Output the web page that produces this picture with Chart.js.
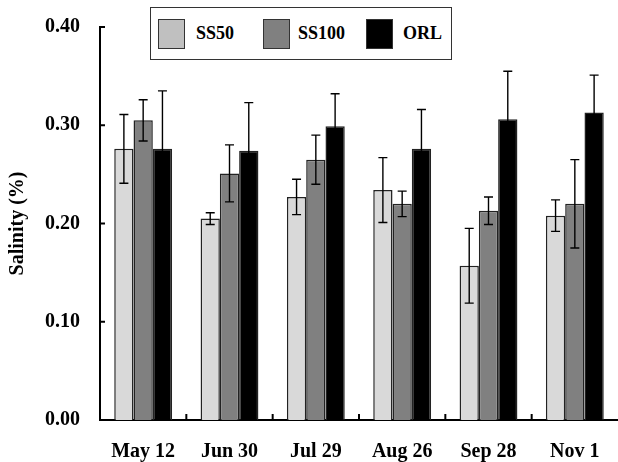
<!DOCTYPE html>
<html lang="en">
<head>
    <meta charset="UTF-8">
    <title>Salinity</title>
    <script src="https://cdn.jsdelivr.net/npm/chart.js"></script>
    <style>
        body { margin: 0; background: #fff; }
        .wrap { position: relative; width: 618px; height: 462px; }
        .legend {
            position: absolute; left: 150px; top: 7px; width: 302px; height: 53px;
            border: 1.5px solid #333; background: #fff; box-sizing: border-box;
            font: bold 18px "Liberation Serif", "Times New Roman", serif;
        }
        .legend .sw {
            position: absolute; top: 11px; width: 27px; height: 30px; border: 1.5px solid #333;
            box-sizing: border-box;
        }
        .legend .txt { position: absolute; top: 14px; line-height: 22px; }
    </style>
</head>
<body>
<div class="wrap">
    <canvas id="chart" width="618" height="462"></canvas>
    <div class="legend" id="legend"></div>
</div>
<script>
    // sampling dates
    const dates = ['May 12', 'Jun 30', 'Jul 29', 'Aug 26', 'Sep 28', 'Nov 1'];

    // mean salinity (%)
    const ss50 = [0.276, 0.205, 0.227, 0.234, 0.157, 0.208];
    const ss100 = [0.305, 0.251, 0.265, 0.220, 0.213, 0.220];
    const orl = [0.276, 0.274, 0.299, 0.276, 0.306, 0.313];

    // error bar half-lengths
    const ss50Err = [0.035, 0.006, 0.018, 0.033, 0.038, 0.016];
    const ss100Err = [0.021, 0.029, 0.025, 0.013, 0.014, 0.045];
    const orlErr = [0.059, 0.049, 0.033, 0.040, 0.049, 0.038];

    const yTicks = [0, 0.1, 0.2, 0.3, 0.4];

    const serif = '"Liberation Serif", "Times New Roman", serif';

    const series = [
        { label: 'SS50', data: ss50, err: ss50Err, color: '#d9d9d9', legendColor: '#c0c0c0' },
        { label: 'SS100', data: ss100, err: ss100Err, color: '#808080', legendColor: '#808080' },
        { label: 'ORL', data: orl, err: orlErr, color: '#000000', legendColor: '#000000' }
    ];

    // html legend box (swatch / text offsets inside the box)
    const swLeft = [7, 112, 215];
    const txtLeft = [45, 147, 252];
    const legend = document.getElementById('legend');
    series.forEach((s, i) => {
        const sw = document.createElement('span');
        sw.className = 'sw';
        sw.style.left = swLeft[i] + 'px';
        sw.style.background = s.legendColor;
        legend.appendChild(sw);
        const t = document.createElement('span');
        t.className = 'txt';
        t.style.left = txtLeft[i] + 'px';
        t.textContent = s.label;
        legend.appendChild(t);
    });

    // error bars + inward tick marks
    const extras = {
        id: 'extras',
        afterDatasetsDraw(chart) {
            const ctx = chart.ctx;
            const y = chart.scales.y;
            const x = chart.scales.x;
            ctx.save();
            ctx.strokeStyle = '#000';
            ctx.lineWidth = 1.4;
            series.forEach((s, di) => {
                const meta = chart.getDatasetMeta(di);
                meta.data.forEach((bar, i) => {
                    const top = y.getPixelForValue(s.data[i] + s.err[i]);
                    const bot = y.getPixelForValue(s.data[i] - s.err[i]);
                    ctx.beginPath();
                    ctx.moveTo(bar.x, top);
                    ctx.lineTo(bar.x, bot);
                    ctx.moveTo(bar.x - 4.5, top);
                    ctx.lineTo(bar.x + 4.5, top);
                    ctx.moveTo(bar.x - 4.5, bot);
                    ctx.lineTo(bar.x + 4.5, bot);
                    ctx.stroke();
                });
            });
            ctx.lineWidth = 2;
            const area = chart.chartArea;
            yTicks.forEach(v => {
                const py = y.getPixelForValue(v);
                ctx.beginPath();
                ctx.moveTo(area.left, py);
                ctx.lineTo(area.left + 5, py);
                ctx.stroke();
            });
            for (let i = 0; i < dates.length - 1; i++) {
                const px = (x.getPixelForValue(i) + x.getPixelForValue(i + 1)) / 2;
                ctx.beginPath();
                ctx.moveTo(px, area.bottom);
                ctx.lineTo(px, area.bottom - 6);
                ctx.stroke();
            }
            ctx.restore();
        }
    };

    new Chart(document.getElementById('chart'), {
        type: 'bar',
        data: {
            labels: dates,
            datasets: series.map(s => ({
                label: s.label,
                data: s.data,
                backgroundColor: s.color,
                borderColor: '#222',
                borderWidth: 1.5,
                barPercentage: 1,
                categoryPercentage: 0.67
            }))
        },
        options: {
            responsive: false,
            animation: false,
            layout: { padding: { top: 27, right: 0, left: 0, bottom: 0 } },
            plugins: {
                legend: { display: false },
                tooltip: { enabled: false }
            },
            scales: {
                x: {
                    grid: { display: false, drawTicks: false },
                    border: { color: '#000', width: 2 },
                    ticks: {
                        padding: 20,
                        color: '#000',
                        font: { family: serif, size: 20, weight: 'bold' }
                    },
                    afterFit(scale) { scale.height = 42; scale.paddingLeft = 0; scale.paddingRight = 0; }
                },
                y: {
                    min: 0,
                    max: 0.4,
                    afterBuildTicks(scale) { scale.ticks = yTicks.map(v => ({ value: v })); },
                    grid: { display: false, drawTicks: false },
                    border: { color: '#000', width: 2 },
                    ticks: {
                        padding: 20,
                        color: '#000',
                        font: { family: serif, size: 20, weight: 'bold' },
                        callback: v => v.toFixed(2)
                    },
                    title: {
                        display: true,
                        text: 'Salinity (%)',
                        color: '#000',
                        font: { family: serif, size: 20, weight: 'bold' },
                        padding: { top: 6, bottom: 0 }
                    },
                    afterFit(scale) { scale.width = 100; scale.paddingTop = 0; scale.paddingBottom = 0; }
                }
            }
        },
        plugins: [extras]
    });
</script>
</body>
</html>
